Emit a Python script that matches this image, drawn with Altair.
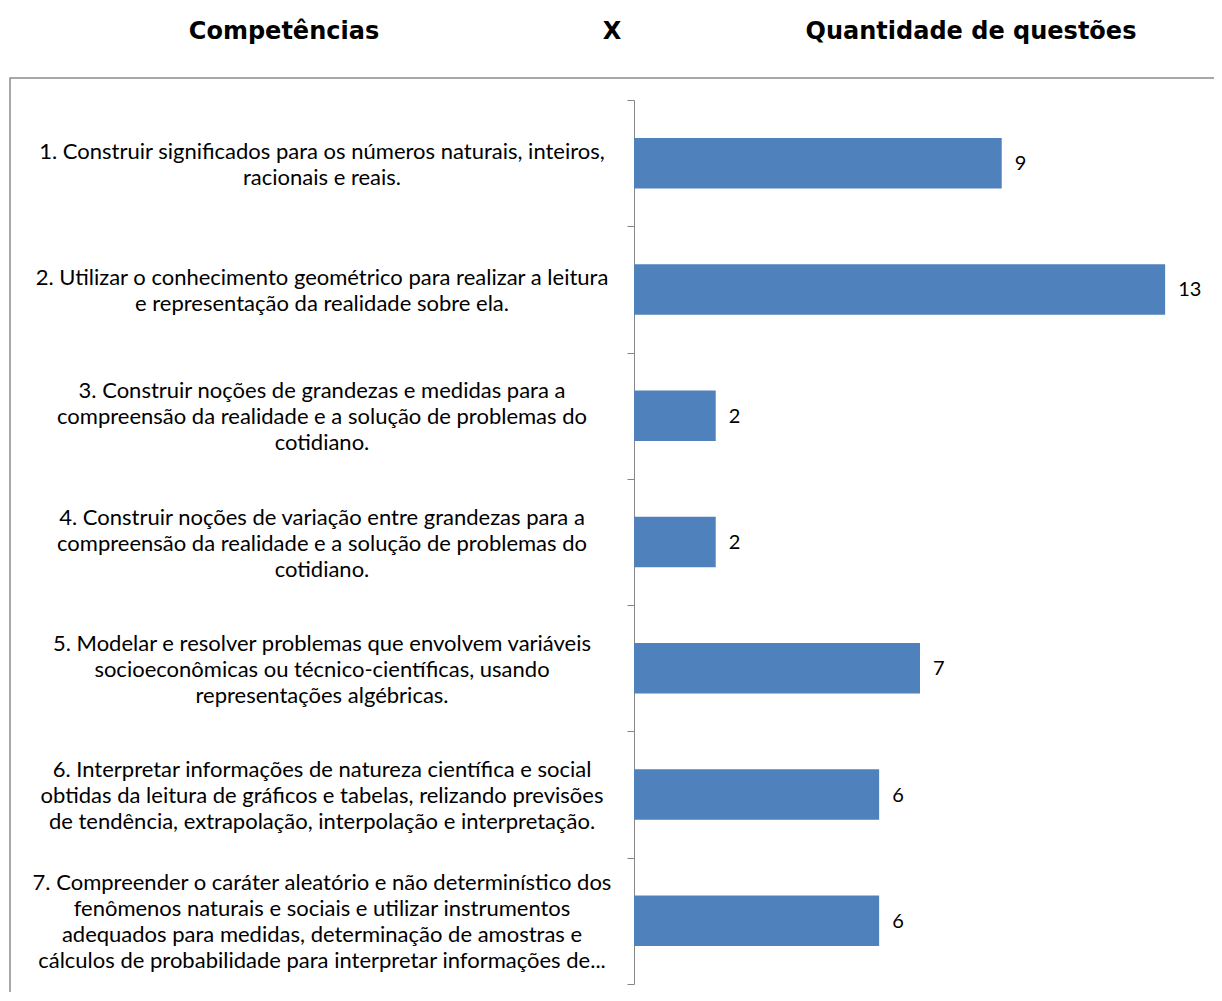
import altair as alt
import pandas as pd

competencias = [
    "1. Construir significados para os números naturais, inteiros,|racionais e reais.",
    "2. Utilizar o conhecimento geométrico para realizar a leitura|e representação da realidade sobre ela.",
    "3. Construir noções de grandezas e medidas para a|compreensão da realidade e a solução de problemas do|cotidiano.",
    "4. Construir noções de variação entre grandezas para a|compreensão da realidade e a solução de problemas do|cotidiano.",
    "5. Modelar e resolver problemas que envolvem variáveis|socioeconômicas ou técnico-científicas, usando|representações algébricas.",
    "6. Interpretar informações de natureza científica e social|obtidas da leitura de gráficos e tabelas, relizando previsões|de tendência, extrapolação, interpolação e interpretação.",
    "7. Compreender o caráter aleatório e não determinístico dos|fenômenos naturais e sociais e utilizar instrumentos|adequados para medidas, determinação de amostras e|cálculos de probabilidade para interpretar informações de...",
]
questoes = [9, 13, 2, 2, 7, 6, 6]

df = pd.DataFrame({"competencia": competencias, "questoes": questoes})
df["linhas"] = df["competencia"].str.count(r"\|") + 1

LABEL_FONT = "Lato"
TITLE_FONT = "DejaVu Sans"
LINE_H = 26

y = alt.Y(
    "competencia:N",
    sort=competencias,
    title=None,
    scale=alt.Scale(paddingInner=0, paddingOuter=0),
    axis=alt.Axis(
        labels=False,
        tickSize=7,
        tickBand="extent",
        domainColor="#868686",
        tickColor="#868686",
        grid=False,
    ),
)
x = alt.X("questoes:Q", scale=alt.Scale(domain=[0, 14], nice=False), axis=None)

one = alt.Data(values=[{}])

border = alt.Chart(one).mark_rect(
    fill="transparent", stroke="#8c8c8c", strokeWidth=1.5
).encode(
    x=alt.value(-624), x2=alt.value(700), y=alt.value(-22), y2=alt.value(1000)
)

bars = alt.Chart(df).mark_bar(
    color="#4F81BD", height=alt.RelativeBandSize(band=0.4)
).encode(x=x, y=y)

values = alt.Chart(df).mark_text(
    align="left", baseline="middle", dx=13, dy=1, font=LABEL_FONT, fontSize=20, color="black"
).encode(x=x, y=y, text="questoes:Q")

label_layers = []
for n in sorted(df["linhas"].unique()):
    label_layers.append(
        alt.Chart(df).transform_filter(alt.datum.linhas == int(n)).mark_text(
            align="center", baseline="middle", lineBreak="|",
            lineHeight=LINE_H, dy=-(int(n) - 1) * LINE_H / 2 + 1.5,
            font=LABEL_FONT, fontSize=22, color="black",
        ).encode(x=alt.value(-312), y=y, text="competencia:N")
    )

def title_part(txt, xpos):
    return alt.Chart(one).mark_text(
        font=TITLE_FONT, fontSize=24, fontWeight="bold", color="black",
        align="center", baseline="middle"
    ).encode(x=alt.value(xpos), y=alt.value(-68), text=alt.value(txt))

t1 = title_part("Competências", -350)
t2 = title_part("X", -22)
t3 = title_part("Quantidade de questões", 337)

chart = alt.layer(border, bars, values, *label_layers, t1, t2, t3).properties(
    width=572,
    height=884,
    autosize=alt.AutoSizeParams(type="none"),
    padding={"left": 626, "top": 92, "right": 8, "bottom": 8},
).configure_view(strokeWidth=0)

chart.save("out.html", embed_options={"renderer": "svg", "actions": False})
